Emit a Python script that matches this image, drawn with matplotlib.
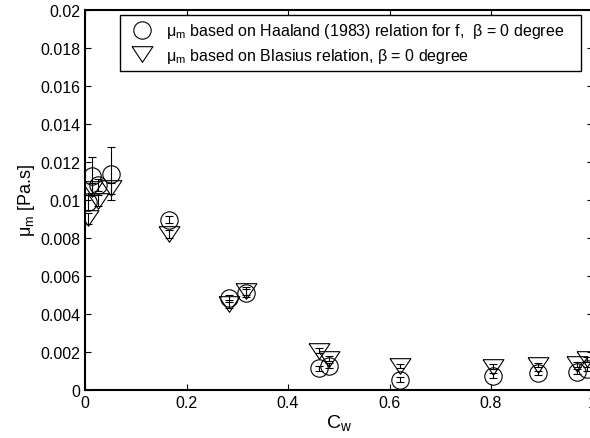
import numpy as np
import matplotlib
matplotlib.use('Agg')
import matplotlib.pyplot as plt
from matplotlib.lines import Line2D
from matplotlib.ticker import FormatStrFormatter

plt.rcParams['font.family'] = ['Liberation Sans', 'DejaVu Sans']
plt.rcParams['mathtext.fontset'] = 'custom'
plt.rcParams['mathtext.rm'] = 'Liberation Sans'

# wall coverage C_w
cw = [0.0066, 0.013, 0.026, 0.051, 0.165, 0.283, 0.318, 0.462, 0.481,
      0.621, 0.803, 0.892, 0.970, 0.990]

# mu_m from Haaland (1983) friction factor
mu_haaland = [0.00986, 0.01123, 0.01077, 0.01137, 0.00895, 0.00481, 0.00509,
              0.00113, 0.00126, 0.00053, 0.00074, 0.00088, 0.00095, 0.00110]
err_haaland = [0.0004, 0.0010, 0.0003, 0.0014, 0.0002, 0.0002, 0.0002,
               0.00012, 0.00012, 0.00012, 0.00012, 0.00012, 0.00012, 0.00012]

# mu_m from Blasius relation
mu_blasius = [0.00902, 0.01056, 0.00995, 0.0106, 0.0082, 0.0045, 0.0052,
              0.00205, 0.00163, 0.00125, 0.00122, 0.0013, 0.00133, 0.0016]
err_blasius = [0.0003, 0.0003, 0.0003, 0.0003, 0.0002, 0.0002, 0.0002,
               0.00012, 0.00012, 0.00012, 0.00012, 0.00012, 0.00012, 0.00012]

label_h = u'\u03bc$_\\mathregular{m}$ based on Haaland (1983) relation for f,  \u03b2 = 0 degree   '
label_b = u'\u03bc$_\\mathregular{m}$ based on Blasius relation, \u03b2 = 0 degree'

xticks = [0, 0.2, 0.4, 0.6, 0.8, 1]
yticks = np.arange(0, 0.0201, 0.002)

# matlab-like wide triangle (closed)
tri = [(-1, 0.75), (1, 0.75), (0, -0.75), (-1, 0.75)]

fig = plt.figure(figsize=(5.9, 4.39), dpi=100)
ax = fig.add_axes([85/590., 0.110, 507.5/590., 0.8656])

ax.errorbar(cw, mu_haaland, yerr=err_haaland, fmt='none', ecolor='k',
            elinewidth=0.8, capsize=3, capthick=0.8)
ax.errorbar(cw, mu_blasius, yerr=err_blasius, fmt='none', ecolor='k',
            elinewidth=0.8, capsize=3, capthick=0.8)
ax.plot(cw, mu_haaland, ls='none', marker='o', ms=12.5, mfc='none', mec='k', mew=0.8)
ax.plot(cw, mu_blasius, ls='none', marker=tri, ms=15, mfc='none', mec='k', mew=0.8)

ax.set_xlim(0, 1)
ax.set_ylim(0, 0.02)
ax.set_xticks(xticks)
ax.set_yticks(yticks)
ax.xaxis.set_major_formatter(FormatStrFormatter('%g'))
ax.yaxis.set_major_formatter(FormatStrFormatter('%g'))
ax.tick_params(direction='in', length=4, width=0.8, top=True, right=True, labelsize=11.5)
for s in ax.spines.values():
    s.set_linewidth(1.5)

ax.set_xlabel(u'C$_\\mathregular{w}$', fontsize=14, labelpad=2)
ax.set_ylabel(u'\u03bc$_\\mathregular{m}$ [Pa.s]', fontsize=13, labelpad=2)

handles = [Line2D([], [], ls='none', marker='o', ms=12.5, mfc='none', mec='k', mew=0.8),
           Line2D([], [], ls='none', marker=tri, ms=15, mfc='none', mec='k', mew=0.8)]
leg = ax.legend(handles, [label_h, label_b], loc='upper left',
                bbox_to_anchor=(120/590., 1 - 16/439.), bbox_transform=fig.transFigure,
                borderaxespad=0, fancybox=False, framealpha=1, edgecolor='k',
                fontsize=11.5, handletextpad=0.5, labelspacing=0.35, borderpad=0.4)
leg.get_frame().set_linewidth(1.0)

fig.savefig('out.png', dpi=100)
